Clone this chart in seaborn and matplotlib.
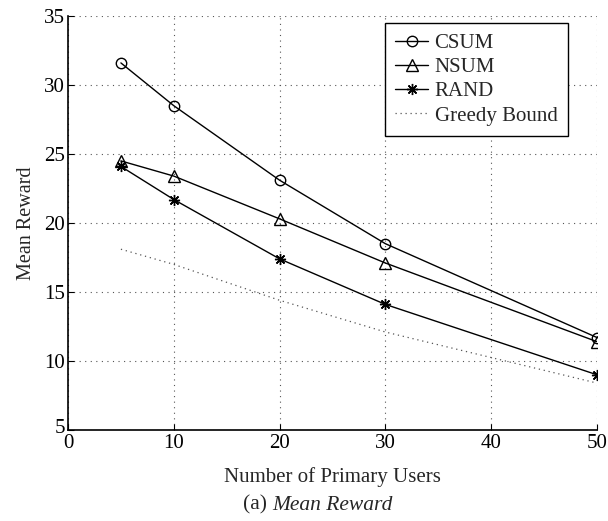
import numpy as np
import pandas as pd
import matplotlib
matplotlib.use("Agg")
import matplotlib.pyplot as plt
import matplotlib.transforms as mtransforms
import seaborn as sns

users = [5, 10, 20, 30, 50]
csum = [31.6, 28.5, 23.1, 18.5, 11.7]
nsum = [24.5, 23.4, 20.3, 17.1, 11.4]
rand = [24.1, 21.7, 17.4, 14.1, 9.0]
greedy = [18.1, 17.0, 14.4, 12.1, 8.4]

x_ticks = [0, 10, 20, 30, 40, 50]
y_ticks = [5, 10, 15, 20, 25, 30, 35]

sns.set_theme(style="white")
plt.rcParams["font.family"] = ["Liberation Serif", "DejaVu Serif"]

fig = plt.figure(figsize=(6.08, 5.21), dpi=100)
ax = fig.add_axes([68 / 608, 1 - 430 / 521, (597 - 68) / 608, (430 - 16) / 521])

series = [
    ("CSUM", csum, dict(marker="o", markersize=7.5, markerfacecolor="none")),
    ("NSUM", nsum, dict(marker="^", markersize=8.5, markerfacecolor="none")),
    ("RAND", rand, dict(marker=(8, 2, 0), markersize=8)),
]
for name, vals, style in series:
    df = pd.DataFrame({"x": users, "y": vals})
    sns.lineplot(data=df, x="x", y="y", ax=ax, color="black", linewidth=1.0,
                 markeredgecolor="black", markeredgewidth=1.0, label=name, **style)

df_g = pd.DataFrame({"x": users, "y": greedy})
sns.lineplot(data=df_g, x="x", y="y", ax=ax, color="#555555", linewidth=0.9,
             linestyle=(0, (1, 3)), label="Greedy Bound")

ax.set_xlim(0, 50)
ax.set_ylim(5, 35)
ax.set_xticks(x_ticks)
ax.set_yticks(y_ticks)
ax.grid(True, color="#555555", linestyle=(0, (1, 4)), linewidth=0.8)
ax.tick_params(direction="in", length=4, width=0.8, labelsize=15, colors="black",
               top=False, right=False, bottom=True, left=True)
ax.tick_params(axis="x", pad=3)
ax.tick_params(axis="y", pad=2)
for side in ["top", "right"]:
    ax.spines[side].set_visible(False)
for side in ["left", "bottom"]:
    ax.spines[side].set_color("black")
    ax.spines[side].set_linewidth(1.2)

# lift the bottom y label so it clears the x origin label
fig.canvas.draw()
ylab0 = ax.get_yticklabels()[0]
ylab0.set_transform(ylab0.get_transform() +
                    mtransforms.ScaledTranslation(0, 4 / 100, fig.dpi_scale_trans))

ax.set_xlabel("Number of Primary Users", fontsize=15, labelpad=10)
ax.set_ylabel("Mean Reward", fontsize=14.5, labelpad=6)

leg = ax.legend(loc="upper right", bbox_to_anchor=(0.945, 0.983), borderaxespad=0,
                fontsize=15, frameon=True, fancybox=False, edgecolor="black",
                framealpha=1, handlelength=1.6, borderpad=0.5, labelspacing=0.22,
                handletextpad=0.3)
leg.get_frame().set_linewidth(1.0)

cx = 318 / 608
fig.text(cx - 0.075, 1 - 505 / 521, "(a) ", fontsize=15.5, ha="right", va="center")
fig.text(cx - 0.075, 1 - 505 / 521, "Mean Reward", fontsize=15.5,
         style="italic", ha="left", va="center")

fig.savefig("out.png", dpi=100)
